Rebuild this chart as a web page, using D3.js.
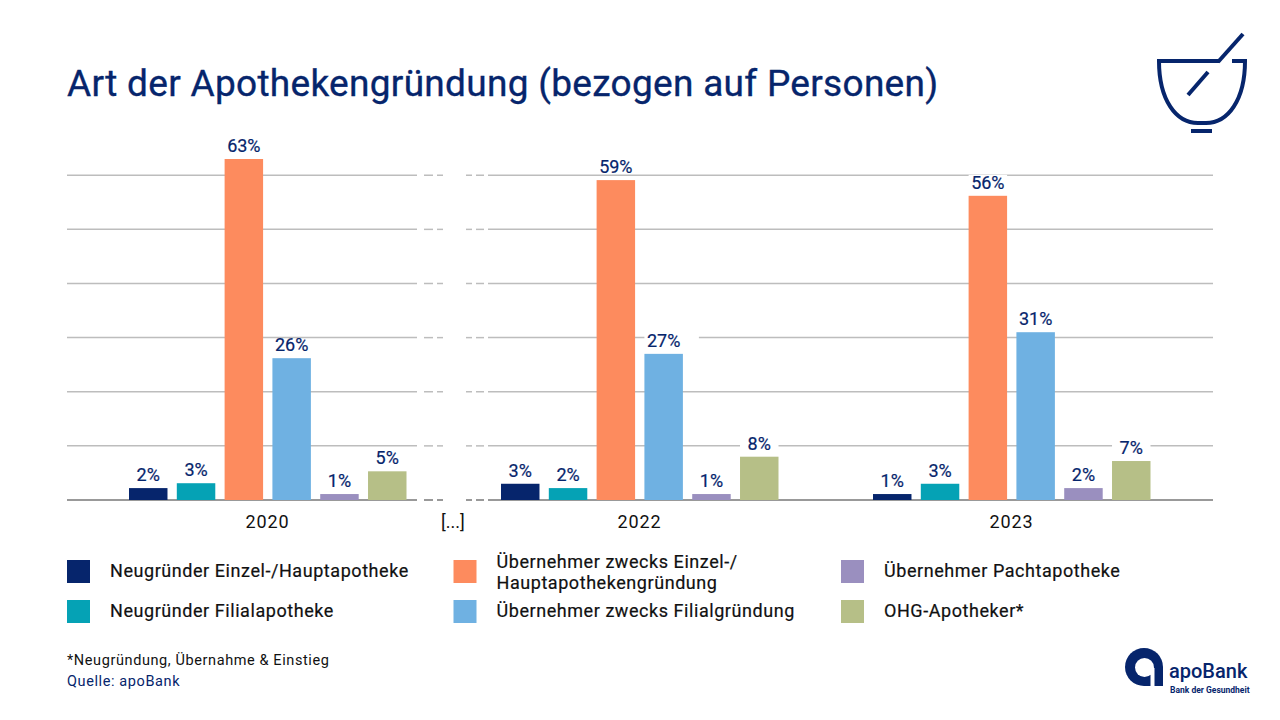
<!DOCTYPE html>
<html>
<head>
<meta charset="utf-8">
<script src="https://cdn.jsdelivr.net/npm/d3@7"></script>
<style>
  html, body { margin: 0; padding: 0; background: #fff; }
  svg { display: block; }
  text { font-family: "Roboto", sans-serif; }
</style>
</head>
<body>
<svg id="chart" width="1280" height="720"></svg>
<script>
// chart data, labels show the rounded value
const years = ["2020", "2022", "2023"];
const seriesNames = [
  "Neugründer Einzel-/Hauptapotheke",
  "Neugründer Filialapotheke",
  "Übernehmer zwecks Einzel-/Hauptapothekengründung",
  "Übernehmer zwecks Filialgründung",
  "Übernehmer Pachtapotheke",
  "OHG-Apotheker*"
];
const values2020 = [2.2, 3.1, 63, 26.2, 1.1, 5.3];
const values2022 = [3, 2.2, 59.1, 27, 1.1, 8];
const values2023 = [1.1, 3, 56.2, 31, 2.2, 7.2];
const yTicks = [10, 20, 30, 40, 50, 60];
const colors = ["#06256c", "#05a2b5", "#fd8b5e", "#6fb1e2", "#9a8fbf", "#b6bf87"];
const valuesByYear = [values2020, values2022, values2023];

// labels that cut the grid line behind them: year, series index
const maskedLabels = [["2022", 3], ["2022", 5], ["2023", 2], ["2023", 5]];

const navy = "#06256c";
const svg = d3.select("#chart");

const y = d3.scaleLinear().domain([0, 63]).range([500, 159]);
const x0 = d3.scaleBand().domain(years).range([81.5, 1197.5]);
const x1 = d3.scaleBand().domain(seriesNames).range([47.5, 325]).paddingInner(0.195).paddingOuter(0);
const pct = d3.format(".0f");

// title
svg.append("text")
    .attr("x", 67).attr("y", 96)
    .attr("font-size", 37).attr("fill", navy)
    .attr("stroke", navy).attr("stroke-width", 0.35)
    .attr("letter-spacing", 0.3)
    .text("Art der Apothekengründung (bezogen auf Personen)");

// grid lines, interrupted between 2020 and 2022
const grid = svg.append("g");
[0].concat(yTicks).forEach(function(t) {
  const yy = y(t);
  const segs = [[67, 417], [424, 433], [437, 443], [466, 472], [476, 484], [488, 1213]];
  grid.selectAll(null)
      .data(segs)
      .enter().append("line")
      .attr("x1", d => d[0]).attr("x2", d => d[1])
      .attr("y1", yy).attr("y2", yy)
      .attr("stroke", t === 0 ? "#999999" : "#bdbdbd")
      .attr("stroke-width", t === 0 ? 2 : 1.5);
});

// white box above some bars hides the grid line behind the label
svg.append("g").selectAll("rect")
    .data(maskedLabels)
    .enter().append("rect")
    .attr("x", d => x0(d[0]) + x1(seriesNames[d[1]]))
    .attr("y", d => y(valuesByYear[years.indexOf(d[0])][d[1]]) - 21)
    .attr("width", d => x1.bandwidth() + (d[1] === 3 ? 16 : 0))  // the 27% box is wider
    .attr("height", 21)
    .attr("fill", "#fff");

const groups = svg.selectAll("g.year")
    .data(years)
    .enter().append("g")
    .attr("class", "year")
    .attr("transform", d => "translate(" + x0(d) + ",0)");

// bars
groups.selectAll("rect.bar")
    .data((d, i) => valuesByYear[i])
    .enter().append("rect")
    .attr("class", "bar")
    .attr("x", (d, i) => x1(seriesNames[i]))
    .attr("y", d => y(d))
    .attr("width", x1.bandwidth())
    .attr("height", d => y(0) - y(d))
    .attr("fill", (d, i) => colors[i]);

// value labels
groups.selectAll("text.val")
    .data((d, i) => valuesByYear[i])
    .enter().append("text")
    .attr("class", "val")
    .attr("x", (d, i) => x1(seriesNames[i]) + x1.bandwidth() / 2)
    .attr("y", d => y(d) - 7)
    .attr("text-anchor", "middle")
    .attr("font-size", 18).attr("fill", navy)
    .attr("stroke", navy).attr("stroke-width", 0.2)
    .text(d => pct(d) + "%");

// year labels
groups.append("text")
    .attr("x", x0.bandwidth() / 2)
    .attr("y", 528)
    .attr("text-anchor", "middle")
    .attr("font-size", 18).attr("fill", "#111")
    .attr("letter-spacing", 0.9)
    .text(d => d);

svg.append("text")
    .attr("x", 453).attr("y", 528)
    .attr("text-anchor", "middle")
    .attr("font-size", 18).attr("fill", "#111")
    .text("[...]");

// legend
const legendX = [67, 453.5, 841];
const legendY = [571.5, 611.5];
const legendPos = [[0, 0], [0, 1], [1, 0], [1, 1], [2, 0], [2, 1]];
const legendLines = [
  ["Neugründer Einzel-/Hauptapotheke"],
  ["Neugründer Filialapotheke"],
  ["Übernehmer zwecks Einzel-/", "Hauptapothekengründung"],
  ["Übernehmer zwecks Filialgründung"],
  ["Übernehmer Pachtapotheke"],
  ["OHG-Apotheker*"]
];
const legend = svg.selectAll("g.leg")
    .data(seriesNames)
    .enter().append("g")
    .attr("class", "leg")
    .attr("transform", (d, i) => "translate(" + legendX[legendPos[i][0]] + "," + legendY[legendPos[i][1]] + ")");
legend.append("rect")
    .attr("x", 0).attr("y", -11.5)
    .attr("width", 23).attr("height", 23)
    .attr("fill", (d, i) => colors[i]);
legend.each(function(d, i) {
  const lines = legendLines[i];
  d3.select(this).selectAll("text")
      .data(lines)
      .enter().append("text")
      .attr("x", 43)
      .attr("y", (l, j) => lines.length > 1 ? -3.5 + j * 20.5 : 5.5)
      .attr("font-size", 18).attr("fill", "#111")
      .attr("stroke", "#111").attr("stroke-width", 0.2)
      .attr("letter-spacing", 0.56)
      .text(l => l);
});

// footnotes
svg.append("text").attr("x", 67).attr("y", 665)
    .attr("font-size", 14.5).attr("fill", "#111")
    .attr("letter-spacing", 0.6)
    .text("*Neugründung, Übernahme & Einstieg");
svg.append("text").attr("x", 67).attr("y", 686)
    .attr("font-size", 14.5).attr("fill", navy)
    .attr("letter-spacing", 0.6)
    .text("Quelle: apoBank");

// mortar icon
const icon = svg.append("g")
    .attr("fill", "none").attr("stroke", navy).attr("stroke-width", 4);
icon.append("path").attr("d", "M1219 61 H1159 C1159 100 1176 123 1198 123 H1206 C1228 123 1245 100 1245 61 H1232");
icon.append("path").attr("d", "M1218 62 L1243 34");
icon.append("path").attr("d", "M1188 95 L1208 72");
icon.append("path").attr("d", "M1191 131 H1212");

// apoBank logo
const logo = svg.append("g");
logo.append("path")
    .attr("d", "M1163 686 V667 A19 19 0 1 0 1144 686 Z")
    .attr("fill", navy);
logo.append("circle").attr("cx", 1144.5).attr("cy", 667.5).attr("r", 9.5).attr("fill", "#fff");
logo.append("rect").attr("x", 1150.5).attr("y", 668).attr("width", 4).attr("height", 18).attr("fill", "#fff");
logo.append("text").attr("x", 1169).attr("y", 678)
    .attr("font-size", 20).attr("font-weight", 500).attr("fill", navy)
    .text("apoBank");
logo.append("text").attr("x", 1170).attr("y", 693)
    .attr("font-size", 8.5).attr("font-weight", 700).attr("fill", navy)
    .text("Bank der Gesundheit");
</script>
</body>
</html>
